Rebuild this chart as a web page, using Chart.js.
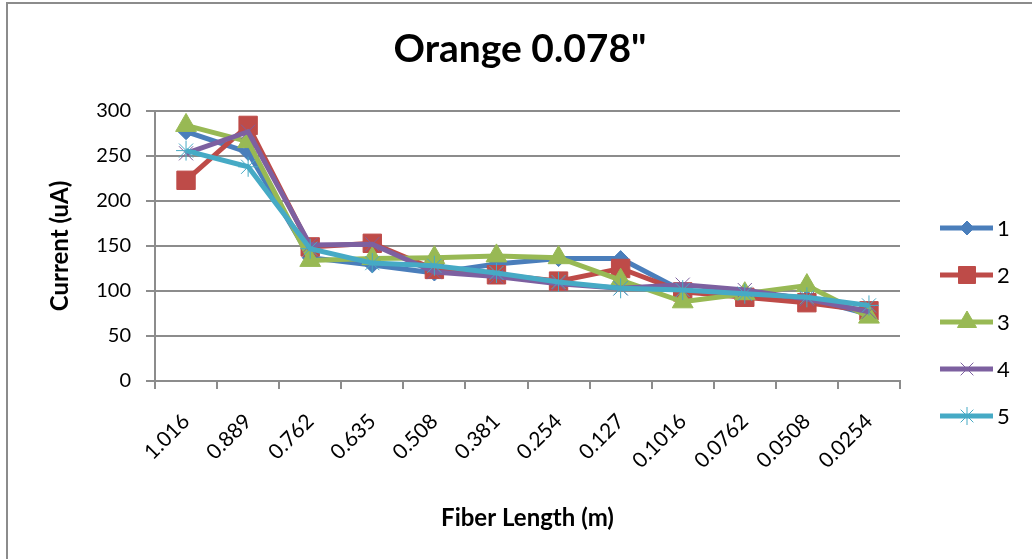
<!DOCTYPE html>
<html>
<head>
<meta charset="utf-8">
<script src="https://cdn.jsdelivr.net/npm/chart.js@4.4.0/dist/chart.umd.min.js"></script>
<style>
  body { margin: 0; background: #fff; }
  #wrap { width: 1032px; height: 559px; }
</style>
</head>
<body>
<div id="wrap"><canvas id="myChart" width="1032" height="559"></canvas></div>
<script>
var categories = ['1.016', '0.889', '0.762', '0.635', '0.508', '0.381', '0.254', '0.127', '0.1016', '0.0762', '0.0508', '0.0254'];
var series1 = [277, 254, 137, 129, 120, 130, 136, 136, 100, 98, 92, 74];
var series2 = [223, 284, 149, 153, 124, 118, 111, 125, 99, 93, 87, 78];
var series3 = [284, 266, 134, 136, 137, 139, 137, 112, 88, 97, 106, 71];
var series4 = [253, 277, 151, 152, 121, 116, 108, 103, 107, 101, 91, 77];
var series5 = [256, 238, 147, 131, 128, 120, 110, 103, 101, 97, 93, 84];
var seriesNames = ['1', '2', '3', '4', '5'];
var yTicks = [0, 50, 100, 150, 200, 250, 300];
var chartTitle = 'Orange 0.078"';

var colors = ['#4A7EBB', '#BE4B48', '#98B954', '#7D60A0', '#46AAC5'];
var styles = ['rectRot', 'rect', 'triangle', 'crossRot', 'star'];
var radii = [8, 13, 12, 10, 10];
var allData = [series1, series2, series3, series4, series5];

var datasets = [];
for (var i = 0; i < allData.length; i++) {
    datasets.push({
        label: seriesNames[i],
        data: allData[i],
        borderColor: colors[i],
        backgroundColor: colors[i],
        borderWidth: 5,
        pointStyle: styles[i],
        pointRadius: radii[i],
        pointBorderWidth: 1,
        pointBorderColor: colors[i],
        pointBackgroundColor: colors[i],
        tension: 0,
        order: 5 - i
    });
}

// frame, title and legend drawn on the canvas
var extras = {
    id: 'extras',
    beforeDraw: function (chart) {
        var ctx = chart.ctx;
        ctx.save();
        ctx.fillStyle = '#fff';
        ctx.fillRect(0, 0, chart.width, chart.height);
        ctx.strokeStyle = '#8c8c8c';
        ctx.lineWidth = 2;
        ctx.beginPath();
        ctx.moveTo(7, 559);
        ctx.lineTo(7, 3);
        ctx.lineTo(1032, 3);
        ctx.stroke();
        ctx.restore();
    },
    afterDraw: function (chart) {
        var ctx = chart.ctx;
        ctx.save();
        ctx.fillStyle = '#000';
        ctx.font = 'bold 39px Lato';
        ctx.textAlign = 'center';
        ctx.textBaseline = 'alphabetic';
        ctx.fillText(chartTitle, 520, 62);
        for (var i = 0; i < seriesNames.length; i++) {
            var y = 228 + i * 47;
            ctx.strokeStyle = colors[i];
            ctx.lineWidth = 5;
            ctx.beginPath();
            ctx.moveTo(940, y);
            ctx.lineTo(993, y);
            ctx.stroke();
            ctx.fillStyle = colors[i];
            ctx.strokeStyle = colors[i];
            ctx.lineWidth = 1;
            Chart.helpers.drawPoint(ctx, { pointStyle: styles[i], radius: radii[i] - 1, borderWidth: 1 }, 967, y);
            ctx.fillStyle = '#000';
            ctx.font = '22px Lato';
            ctx.textBaseline = 'middle';
            ctx.textAlign = 'left';
            ctx.fillText(seriesNames[i], 997, y + 1);
        }
        ctx.restore();
    }
};

var ctx = document.getElementById('myChart').getContext('2d');
var mychart = new Chart(ctx, {
    type: 'line',
    data: {
        labels: categories,
        datasets: datasets
    },
    plugins: [extras],
    options: {
        responsive: false,
        animation: false,
        layout: { padding: { left: 0, right: 132, top: 111, bottom: 0 } },
        plugins: {
            legend: { display: false },
            tooltip: { enabled: false },
            title: { display: false }
        },
        scales: {
            x: {
                offset: true,
                grid: { display: true, offset: true, drawOnChartArea: false, color: '#8c8c8c', lineWidth: 2, tickLength: 8 },
                border: { display: true, color: '#8c8c8c', width: 2 },
                ticks: {
                    color: '#000',
                    font: { family: 'Lato', size: 21 },
                    minRotation: 45,
                    maxRotation: 45,
                    padding: 20,
                    autoSkip: false
                },
                title: {
                    display: true,
                    text: 'Fiber Length (m)',
                    color: '#000',
                    font: { family: 'Lato', size: 24, weight: 'bold' },
                    padding: { top: 0, bottom: 26 }
                },
                afterFit: function (scale) { scale.height = 178; }
            },
            y: {
                min: 0,
                max: 300,
                afterBuildTicks: function (scale) {
                    scale.ticks = yTicks.map(function (v) { return { value: v }; });
                },
                grid: { color: '#8c8c8c', lineWidth: 2, tickLength: 9 },
                border: { display: true, color: '#8c8c8c', width: 2 },
                ticks: {
                    color: '#000',
                    font: { family: 'Lato', size: 20 },
                    padding: 15
                },
                title: {
                    display: true,
                    text: 'Current (uA)',
                    color: '#000',
                    font: { family: 'Lato', size: 24, weight: 'bold' },
                    padding: { top: 46, bottom: 0 }
                },
                afterFit: function (scale) { scale.width = 155; }
            }
        }
    }
});
</script>
</body>
</html>
